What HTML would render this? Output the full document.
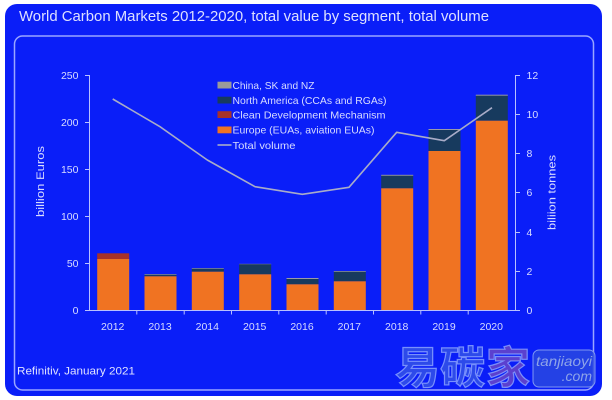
<!DOCTYPE html>
<html><head><meta charset="utf-8"><style>
html,body{margin:0;padding:0;background:#fff;width:612px;height:400px;overflow:hidden}
svg{display:block}
text{font-family:"Liberation Sans","Noto Sans CJK SC",sans-serif}
</style></head><body>
<svg width="612" height="400" viewBox="0 0 612 400" xmlns="http://www.w3.org/2000/svg">
<rect x="5" y="4" width="597" height="392" rx="12" fill="#0a1ef8"/>
<rect x="14.5" y="36" width="579" height="354" rx="8" fill="none" stroke="#9aa6ff" stroke-width="1.5"/>
<text x="19" y="21" font-size="14.5" fill="#dde0ff" textLength="470" lengthAdjust="spacingAndGlyphs">World Carbon Markets 2012-2020, total value by segment, total volume</text>

<!-- axes -->
<g stroke="#b8c0ff" stroke-width="1" fill="none">
<line x1="89.5" y1="75" x2="89.5" y2="310"/>
<line x1="515.5" y1="75" x2="515.5" y2="310"/>
<line x1="85" y1="310.5" x2="520" y2="310.5"/>
<line x1="85" y1="75.5" x2="89.5" y2="75.5"/>
<line x1="85" y1="122.5" x2="89.5" y2="122.5"/>
<line x1="85" y1="169.5" x2="89.5" y2="169.5"/>
<line x1="85" y1="216.5" x2="89.5" y2="216.5"/>
<line x1="85" y1="263.5" x2="89.5" y2="263.5"/>
<line x1="515.5" y1="75.5" x2="520" y2="75.5"/>
<line x1="515.5" y1="114.5" x2="520" y2="114.5"/>
<line x1="515.5" y1="153.5" x2="520" y2="153.5"/>
<line x1="515.5" y1="192.5" x2="520" y2="192.5"/>
<line x1="515.5" y1="232.5" x2="520" y2="232.5"/>
<line x1="515.5" y1="271.5" x2="520" y2="271.5"/>
<line x1="136.8" y1="310" x2="136.8" y2="314.5"/>
<line x1="184.2" y1="310" x2="184.2" y2="314.5"/>
<line x1="231.5" y1="310" x2="231.5" y2="314.5"/>
<line x1="278.8" y1="310" x2="278.8" y2="314.5"/>
<line x1="326.2" y1="310" x2="326.2" y2="314.5"/>
<line x1="373.5" y1="310" x2="373.5" y2="314.5"/>
<line x1="420.8" y1="310" x2="420.8" y2="314.5"/>
<line x1="468.2" y1="310" x2="468.2" y2="314.5"/>
</g>

<!-- left ticks -->
<g font-size="10.5" fill="#d8dcff" text-anchor="end">
<text x="78.5" y="79">250</text>
<text x="78.5" y="126">200</text>
<text x="78.5" y="173">150</text>
<text x="78.5" y="220">100</text>
<text x="78.5" y="267">50</text>
<text x="78.5" y="314">0</text>
</g>
<g font-size="10.5" fill="#d8dcff" text-anchor="start">
<text x="526.5" y="79">12</text>
<text x="526.5" y="118">10</text>
<text x="526.5" y="157">8</text>
<text x="526.5" y="196">6</text>
<text x="526.5" y="236">4</text>
<text x="526.5" y="275">2</text>
<text x="526.5" y="314">0</text>
</g>
<text transform="translate(44,181.5) rotate(-90)" font-size="11" fill="#d8dcff" text-anchor="middle" textLength="71" lengthAdjust="spacingAndGlyphs">billion Euros</text>
<text transform="translate(555.5,192.5) rotate(-90)" font-size="11" fill="#d8dcff" text-anchor="middle" textLength="75" lengthAdjust="spacingAndGlyphs">biliion tonnes</text>

<!-- x labels -->
<g font-size="10.5" fill="#d8dcff" text-anchor="middle">
<text x="112.7" y="330">2012</text>
<text x="160" y="330">2013</text>
<text x="207.3" y="330">2014</text>
<text x="254.7" y="330">2015</text>
<text x="302" y="330">2016</text>
<text x="349.3" y="330">2017</text>
<text x="396.7" y="330">2018</text>
<text x="444" y="330">2019</text>
<text x="491.3" y="330">2020</text>
</g>

<!-- bars -->
<g>
<!-- 2012 -->
<rect x="97.2" y="253.3" width="32" height="5.7" fill="#a8322a"/>
<rect x="97.2" y="259" width="32" height="51" fill="#f07322"/>
<!-- 2013 -->
<rect x="144.5" y="274" width="32" height="0.8" fill="#9a9aa8"/>
<rect x="144.5" y="274.7" width="32" height="1.6" fill="#173a5e"/>
<rect x="144.5" y="276.3" width="32" height="33.7" fill="#f07322"/>
<!-- 2014 -->
<rect x="191.8" y="268" width="32" height="0.8" fill="#9a9aa8"/>
<rect x="191.8" y="268.7" width="32" height="3" fill="#173a5e"/>
<rect x="191.8" y="271.7" width="32" height="38.3" fill="#f07322"/>
<!-- 2015 -->
<rect x="239.2" y="263.8" width="32" height="0.8" fill="#7a7a9a"/>
<rect x="239.2" y="264.3" width="32" height="10" fill="#173a5e"/>
<rect x="239.2" y="274.3" width="32" height="35.7" fill="#f07322"/>
<!-- 2016 -->
<rect x="286.5" y="278" width="32" height="1.2" fill="#9a9aa8"/>
<rect x="286.5" y="279" width="32" height="5.3" fill="#173a5e"/>
<rect x="286.5" y="284.3" width="32" height="25.7" fill="#f07322"/>
<!-- 2017 -->
<rect x="333.8" y="271" width="32" height="1" fill="#9a9aa8"/>
<rect x="333.8" y="271.7" width="32" height="9.6" fill="#173a5e"/>
<rect x="333.8" y="281.3" width="32" height="28.7" fill="#f07322"/>
<!-- 2018 -->
<rect x="381.2" y="174.8" width="32" height="1.2" fill="#9a9aa8"/>
<rect x="381.2" y="175.7" width="32" height="12.6" fill="#173a5e"/>
<rect x="381.2" y="188.3" width="32" height="121.7" fill="#f07322"/>
<!-- 2019 -->
<rect x="428.5" y="129" width="32" height="1.3" fill="#9a9aa8"/>
<rect x="428.5" y="130" width="32" height="21" fill="#173a5e"/>
<rect x="428.5" y="151" width="32" height="159" fill="#f07322"/>
<!-- 2020 -->
<rect x="475.8" y="94.7" width="32" height="1.2" fill="#9a9aa8"/>
<rect x="475.8" y="95.7" width="32" height="25" fill="#173a5e"/>
<rect x="475.8" y="120.7" width="32" height="189.3" fill="#f07322"/>
</g>

<!-- line -->
<polyline points="112.7,99 160,126.7 207.3,160 255,186.7 302.3,194.3 349,187.3 396.7,132.3 444.3,140.7 492,107.7" fill="none" stroke="#a8acc8" stroke-width="1.6" stroke-linejoin="round"/>

<!-- legend -->
<rect x="217.5" y="81.7" width="14" height="6.8" fill="#9a9a9a"/>
<rect x="217.5" y="96.7" width="14" height="6.8" fill="#173a5e"/>
<rect x="217.5" y="111.2" width="14" height="6.8" fill="#a8322a"/>
<rect x="217.5" y="126.5" width="14" height="6.8" fill="#f07322"/>
<line x1="217.5" y1="145" x2="231.5" y2="145" stroke="#a8acc8" stroke-width="1.6"/>
<g font-size="10.5" fill="#d8dcff">
<text x="232.5" y="88.8" textLength="82" lengthAdjust="spacingAndGlyphs">China, SK and NZ</text>
<text x="232.5" y="103.8" textLength="154" lengthAdjust="spacingAndGlyphs">North America (CCAs and RGAs)</text>
<text x="232.5" y="118.3" textLength="153" lengthAdjust="spacingAndGlyphs">Clean Development Mechanism</text>
<text x="232.5" y="133.6" textLength="142" lengthAdjust="spacingAndGlyphs">Europe (EUAs, aviation EUAs)</text>
<text x="232.5" y="148.8" textLength="63" lengthAdjust="spacingAndGlyphs">Total volume</text>
</g>

<text x="17" y="374.5" font-size="11" fill="#e0e3ff" textLength="118" lengthAdjust="spacingAndGlyphs">Refinitiv, January 2021</text>

<!-- watermark -->
<g font-family="'Noto Sans CJK SC','WenQuanYi Zen Hei',sans-serif" font-weight="bold" font-size="44">
<text x="395" y="383" fill="#3a5ae6" fill-opacity="0.75" stroke="#8ea6ff" stroke-width="1.2" stroke-opacity="0.8" textLength="90" lengthAdjust="spacingAndGlyphs">易碳</text>
<text x="486" y="383" fill="#6a46c8" fill-opacity="0.85" stroke="#8ea6ff" stroke-width="1.2" stroke-opacity="0.8" textLength="44" lengthAdjust="spacingAndGlyphs">家</text>
</g>
<rect x="533" y="350" width="62" height="37" rx="6" fill="#2a4ae0" fill-opacity="0.8" stroke="#7f98f2" stroke-width="1"/>
<text x="592" y="366" font-size="14" font-style="italic" fill="#8ea4e8" text-anchor="end" textLength="56" lengthAdjust="spacingAndGlyphs">tanjiaoyi</text>
<text x="592" y="381" font-size="14" font-style="italic" fill="#8ea4e8" text-anchor="end">.com</text>
</svg>
</body></html>
